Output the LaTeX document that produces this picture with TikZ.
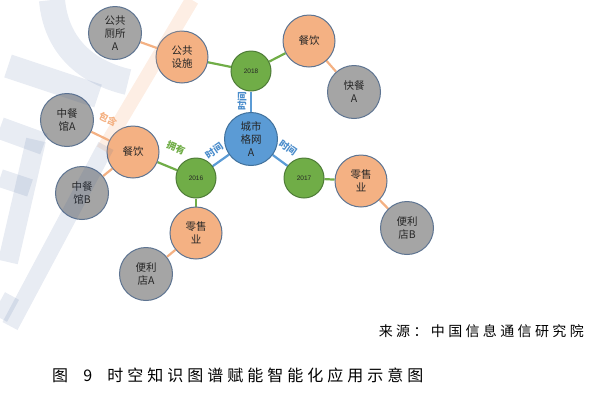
\documentclass[tikz,border=0pt]{standalone}
\usepackage{fontspec}
\setmainfont{Liberation Sans}
\newfontfamily\cjk{Noto Sans CJK SC}
\newfontfamily\cjksrc[LetterSpace=24]{Noto Sans CJK SC}
\newfontfamily\cjkcap[LetterSpace=25]{Noto Sans CJK SC}
\usetikzlibrary{backgrounds}
\definecolor{orgF}{HTML}{F4B183}
\definecolor{gryF}{HTML}{A5A5A5}
\definecolor{grnF}{HTML}{70AD47}
\definecolor{bluF}{HTML}{5B9BD5}
\definecolor{rim}{HTML}{5E7491}
\definecolor{grnRim}{HTML}{4E7C37}
\definecolor{bluRim}{HTML}{41719C}
\definecolor{txt}{HTML}{262626}
\definecolor{wmBlue}{HTML}{3F5F9A}
\definecolor{lblBlue}{HTML}{4A8CCB}
\begin{document}
\begin{tikzpicture}[x=1pt,y=-1pt,
  base/.style={circle,draw,line width=1pt,inner sep=0pt,align=center,
    text=txt,font=\cjk\fontsize{10.5}{13}\selectfont},
  cat/.style={base,fill=orgF,draw=rim,minimum size=52pt},
  inst/.style={base,fill=gryF,draw=rim,minimum size=53pt},
  year/.style={base,fill=grnF,draw=grnRim,minimum size=40pt,font=\fontsize{6.5}{8}\selectfont},
  city/.style={base,fill=bluF,draw=bluRim,minimum size=53pt},
  ge/.style={draw=grnF,line width=2.2pt},
  be/.style={draw=bluF,line width=2.2pt},
  oe/.style={draw=orgF,line width=2.2pt},
  lbl/.style={font=\cjk\fontsize{9.5}{10}\selectfont\bfseries,inner sep=0pt},
  wm/.style={draw=wmBlue,opacity=0.12,line cap=butt},
]
\useasboundingbox (0,0) rectangle (600,405);

% nodes
\node[city] (city) at (251,139) {城市\\格网\\A};
\node[year] (y18) at (251,71) {2018};
\node[year] (y16) at (196,178) {2016};
\node[year] (y17) at (304,178) {2017};
\node[cat] (pub) at (182,57) {公共\\设施};
\node[inst] (wc) at (115,33) {公共\\厕所\\A};
\node[cat] (foodT) at (309,41) {餐饮};
\node[inst] (fast) at (354,92) {快餐\\A};
\node[cat] (foodL) at (133,152) {餐饮};
\node[inst] (cnA) at (67,120) {中餐\\馆A};
\node[inst] (cnB) at (82,193) {中餐\\馆B};
\node[cat] (retB) at (196,233) {零售\\业};
\node[inst] (shopA) at (146,274) {便利\\店A};
\node[cat] (retR) at (361,181) {零售\\业};
\node[inst] (shopB) at (407,228) {便利\\店B};

% edges
\begin{scope}[on background layer]
\path[be] (city) -- (y18);
\path[be] (city) -- (y16);
\path[be] (city) -- (y17);
\path[ge] (y18) -- (pub);
\path[ge] (y18) -- (foodT);
\path[ge] (y16) -- (foodL);
\path[ge] (y16) -- (retB);
\path[ge] (y17) -- (retR);
\path[oe] (pub) -- (wc);
\path[oe] (foodT) -- (fast);
\path[oe] (foodL) -- (cnA);
\path[oe] (foodL) -- (cnB);
\path[oe] (retB) -- (shopA);
\path[oe] (retR) -- (shopB);
\end{scope}

% edge labels
\node[lbl,text=lblBlue,rotate=90] (t1) at (242,101) {时间};
\node[lbl,text=lblBlue,rotate=35] (t2) at (214,151) {时间};
\node[lbl,text=lblBlue,rotate=-35] (t3) at (288,148) {时间};
\node[lbl,text=grnF,rotate=-22] (own) at (176,148) {拥有};
\node[lbl,text=orgF,rotate=-26] (inc) at (108,119) {包含};

% watermark
\draw[draw=orgF,opacity=0.22,line width=14pt] (192,0) -- (103,150);
\draw[wm,line width=17pt] (106,146) -- (10,326);
\draw[wm,line width=26pt] (52,0) .. controls (56,45) and (85,72) .. (128,82);
\draw[wm,line width=24pt] (8,66) -- (98,96);
\draw[wm,line width=22pt] (0,128) -- (44,144);
\draw[wm,line width=20pt] (36,140) -- (8,262);
\draw[wm,line width=18pt] (0,178) -- (30,188);
\draw[wm,line width=16pt] (12,296) -- (0,318);

% captions
\node[font=\cjksrc\fontsize{14}{16}\selectfont,anchor=east,text=black,inner sep=0pt] (src) at (584,331) {来源：中国信息通信研究院};
\node[font=\cjkcap\fontsize{16}{18}\selectfont,anchor=west,text=black,inner sep=0pt] (cap) at (52,375) {图\ \ 9\ \ 时空知识图谱赋能智能化应用示意图};
\end{tikzpicture}
\end{document}
